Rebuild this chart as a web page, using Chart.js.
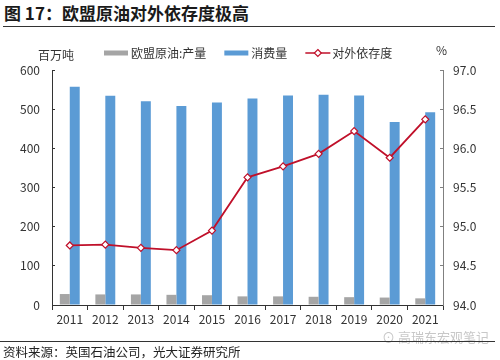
<!DOCTYPE html>
<html>
<head>
<meta charset="utf-8">
<script src="https://cdn.jsdelivr.net/npm/chart.js@4.4.0/dist/chart.umd.min.js"></script>
<style>
	body { margin: 0; width: 500px; height: 360px; background: #fff; position: relative; overflow: hidden;
		font-family: "Noto Sans CJK SC", "Noto Sans", sans-serif; color: #222; }
	.title { position: absolute; left: 4px; top: 1px; font-size: 17px; font-weight: bold; color: #1a1a1a; line-height: 24px; }
	.rule-top { position: absolute; left: 3px; top: 26px; width: 492px; height: 1px; background: #333; }
	.chart-box { position: absolute; left: 0; top: 30px; width: 500px; height: 300px; }
	.rule-bottom { position: absolute; left: 0; top: 341px; width: 495px; height: 1px; background: #333; }
	.source { position: absolute; left: 3px; top: 343px; font-size: 12.5px; line-height: 18px; color: #222; }
	.mark { position: absolute; left: 382px; top: 328px; font-size: 13px; line-height: 18px; color: #c8c8c8; }
</style>
</head>
<body>
<div class="title">图 17：欧盟原油对外依存度极高</div>
<div class="rule-top"></div>
<div class="chart-box"><canvas id="chartDependence" width="500" height="300"></canvas></div>
<div class="mark">⊙ 高瑞东宏观笔记</div>
<div class="rule-bottom"></div>
<div class="source">资料来源：英国石油公司，光大证券研究所</div>

<script>
// данные с графика
const years = ['2011', '2012', '2013', '2014', '2015', '2016', '2017', '2018', '2019', '2020', '2021'];
const production = [28, 27, 27, 26, 25, 22, 22, 21, 20, 19, 17];
const consumption = [557, 534, 520, 508, 517, 527, 535, 537, 535, 467, 492];
const dependence = [94.76, 94.77, 94.73, 94.70, 94.95, 95.63, 95.77, 95.93, 96.22, 95.88, 96.37];
const seriesNames = ['欧盟原油:产量', '消费量', '对外依存度'];

const colors = {
	gray: '#a5a5a5',
	blue: '#5b9bd5',
	red: '#c0102a',
	text: '#333333'
};
const fontFamily = '"Noto Sans CJK SC", "Noto Sans", sans-serif';

// легенда и подписи единиц
const legendPlugin = {
	id: 'customLegend',
	afterDraw(chart) {
		const ctx = chart.ctx;
		ctx.save();
		ctx.font = '12px ' + fontFamily;
		ctx.textBaseline = 'middle';
		ctx.textAlign = 'left';
		ctx.fillStyle = colors.text;
		ctx.fillText('百万吨', 38, 25);
		ctx.fillText('%', 436, 20);

		const y = 23;
		let x = 104;
		chart.data.datasets.forEach(ds => {
			if (ds.type === 'line') {
				ctx.strokeStyle = ds.borderColor;
				ctx.lineWidth = 1.5;
				ctx.beginPath();
				ctx.moveTo(x, y);
				ctx.lineTo(x + 25, y);
				ctx.stroke();
				ctx.fillStyle = '#fff';
				ctx.lineWidth = 1.2;
				ctx.beginPath();
				ctx.moveTo(x + 12.5, y - 3.5);
				ctx.lineTo(x + 16, y);
				ctx.lineTo(x + 12.5, y + 3.5);
				ctx.lineTo(x + 9, y);
				ctx.closePath();
				ctx.fill();
				ctx.stroke();
				x += 27;
			} else {
				ctx.fillStyle = ds.backgroundColor;
				ctx.fillRect(x, y - 2.5, 24, 5);
				x += 27;
			}
			ctx.fillStyle = colors.text;
			ctx.fillText(ds.label, x, y);
			x += ctx.measureText(ds.label).width + 18;
		});
		ctx.restore();
	}
};

const canvasDependence = document.getElementById('chartDependence');

const chartDependence = new Chart(canvasDependence, {
	data: {
		labels: years,
		datasets: [{
			type: 'bar',
			label: seriesNames[0],
			data: production,
			backgroundColor: colors.gray,
			yAxisID: 'y',
			order: 2,
			categoryPercentage: 0.56,
			barPercentage: 1.0
		}, {
			type: 'bar',
			label: seriesNames[1],
			data: consumption,
			backgroundColor: colors.blue,
			yAxisID: 'y',
			order: 2,
			categoryPercentage: 0.56,
			barPercentage: 1.0
		}, {
			type: 'line',
			label: seriesNames[2],
			data: dependence,
			borderColor: colors.red,
			borderWidth: 1.8,
			tension: 0,
			pointStyle: 'rectRot',
			pointRadius: 3.5,
			pointBackgroundColor: '#fff',
			pointBorderColor: colors.red,
			pointBorderWidth: 1.2,
			yAxisID: 'y1',
			order: 1
		}]
	},
	options: {
		responsive: false,
		animation: false,
		layout: {
			padding: { top: 40, left: 0, right: 0, bottom: 0 }
		},
		scales: {
			x: {
				offset: true,
				grid: {
					offset: true,
					drawOnChartArea: false,
					drawTicks: true,
					tickLength: 5,
					color: '#333'
				},
				border: { color: '#333', width: 1 },
				ticks: {
					color: colors.text,
					font: { family: fontFamily, size: 12 },
					padding: 2,
					maxRotation: 0
				},
				afterFit(scale) { scale.height = 25; }
			},
			y: {
				position: 'left',
				min: 0,
				max: 600,
				grid: {
					drawOnChartArea: false,
					drawTicks: true,
					tickLength: -3,
					color: '#333'
				},
				border: { color: '#333', width: 1 },
				ticks: {
					stepSize: 100,
					color: colors.text,
					font: { family: fontFamily, size: 12 },
					padding: 15
				},
				afterFit(scale) { scale.width = 52; }
			},
			y1: {
				position: 'right',
				min: 94,
				max: 97,
				grid: {
					drawOnChartArea: false,
					drawTicks: true,
					tickLength: -3,
					color: '#808080'
				},
				border: { color: '#808080', width: 1 },
				ticks: {
					stepSize: 0.5,
					color: colors.text,
					font: { family: fontFamily, size: 12 },
					padding: 13,
					callback: value => value.toFixed(1)
				},
				afterFit(scale) { scale.width = 57; }
			}
		},
		plugins: {
			legend: { display: false },
			tooltip: { enabled: false }
		}
	},
	plugins: [legendPlugin]
});
</script>
</body>
</html>
